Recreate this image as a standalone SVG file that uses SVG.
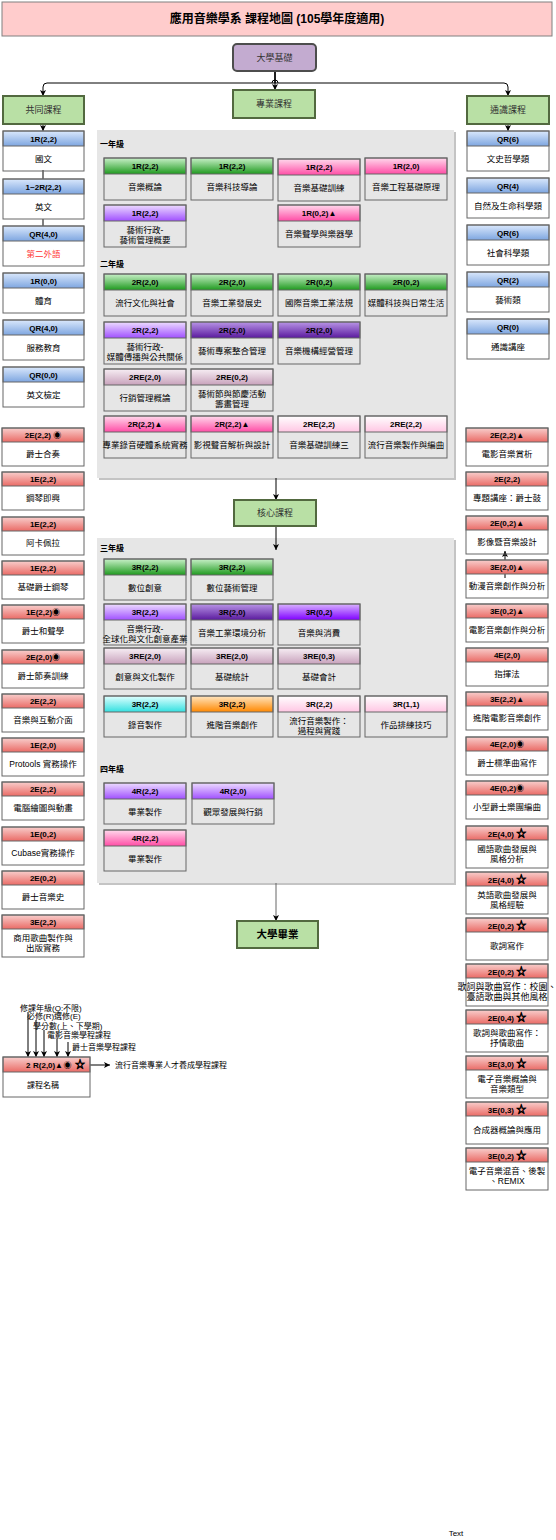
<svg xmlns="http://www.w3.org/2000/svg" width="556" height="1540" viewBox="0 0 556 1540">
<style>
text{font-family:"Liberation Sans","Noto Sans CJK TC",sans-serif;fill:#000}
.ht{font-size:8px;font-weight:bold;text-anchor:middle}
.bt{font-size:8.5px;text-anchor:middle}
.o{fill:none;stroke:#666;stroke-width:1}
.h{stroke:#666;stroke-width:1}
.yl{font-size:8px;font-weight:bold}
.grp{fill:#b9e0a5;stroke:#52693f;stroke-width:2}
.gt{font-size:9px;text-anchor:middle;fill:#333}
.c{fill:none;stroke:#000;stroke-width:1}
.ca{fill:none;stroke:#000;stroke-width:1;marker-end:url(#arr)}
.panel{fill:#e6e6e6}
.shadow{fill:#c4c4c4}
.lg{font-size:8px}
.st{font-size:10px;stroke:#000;stroke-width:0.7}
</style>
<defs>
<marker id="arr" viewBox="0 0 8 8" refX="8" refY="4" markerWidth="6" markerHeight="6" orient="auto" markerUnits="userSpaceOnUse"><path d="M0,0 L8,4 L0,8 L2,4 z" fill="#000"/></marker>
<linearGradient id="gBlue" x1="0" y1="0" x2="0" y2="1"><stop offset="0" stop-color="#dae8fc"/><stop offset="1" stop-color="#7ea6e0"/></linearGradient>
<linearGradient id="gRed" x1="0" y1="0" x2="0" y2="1"><stop offset="0" stop-color="#f8cecc"/><stop offset="1" stop-color="#ea6b66"/></linearGradient>
<linearGradient id="gGreen" x1="0" y1="0" x2="0" y2="1"><stop offset="0" stop-color="#c8f0c8"/><stop offset="1" stop-color="#1f9a1f"/></linearGradient>
<linearGradient id="gPink" x1="0" y1="0" x2="0" y2="1"><stop offset="0" stop-color="#ffd9ec"/><stop offset="1" stop-color="#ff4da6"/></linearGradient>
<linearGradient id="gPurple" x1="0" y1="0" x2="0" y2="1"><stop offset="0" stop-color="#eddcff"/><stop offset="1" stop-color="#a050ff"/></linearGradient>
<linearGradient id="gDPurple" x1="0" y1="0" x2="0" y2="1"><stop offset="0" stop-color="#b894e6"/><stop offset="1" stop-color="#5a1a9e"/></linearGradient>
<linearGradient id="gVPurple" x1="0" y1="0" x2="0" y2="1"><stop offset="0" stop-color="#d9b3ff"/><stop offset="1" stop-color="#7f00ff"/></linearGradient>
<linearGradient id="gMauve" x1="0" y1="0" x2="0" y2="1"><stop offset="0" stop-color="#f7eef4"/><stop offset="1" stop-color="#c8a2bc"/></linearGradient>
<linearGradient id="gLPink" x1="0" y1="0" x2="0" y2="1"><stop offset="0" stop-color="#ffffff"/><stop offset="1" stop-color="#ffc6e3"/></linearGradient>
<linearGradient id="gCyan" x1="0" y1="0" x2="0" y2="1"><stop offset="0" stop-color="#e0ffff"/><stop offset="1" stop-color="#33e0e0"/></linearGradient>
<linearGradient id="gOrange" x1="0" y1="0" x2="0" y2="1"><stop offset="0" stop-color="#ffe5c0"/><stop offset="1" stop-color="#ff8800"/></linearGradient>
</defs>
<rect width="556" height="1540" fill="#fff"/>

<g id="title"><rect x="2" y="2" width="550" height="34" fill="#ffcccc" stroke="#808080" stroke-width="1"/><text x="277" y="23" style="font-size:12px;font-weight:bold;text-anchor:middle">應用音樂學系 課程地圖 (105學年度適用)</text></g>

<g id="panel1"><rect class="shadow" x="99" y="132" width="357" height="348"/><rect class="panel" x="97" y="130" width="357" height="348"/>
<text class="yl" x="100" y="147">一年級</text><text class="yl" x="100" y="267">二年級</text></g>
<g id="panel2"><rect class="shadow" x="99" y="540" width="357" height="345"/><rect class="panel" x="97" y="538" width="357" height="345"/>
<text class="yl" x="100" y="551">三年級</text><text class="yl" x="100" y="772">四年級</text></g>

<g id="connectors">
<path class="ca" d="M275,71 V90"/>
<path class="ca" d="M275,71 V83 H47 Q43,83 43,87 V96"/>
<path class="ca" d="M275,71 V83 H504 Q508,83 508,87 V96"/>
<path class="c" d="M272,83 A3,3 0 0 1 278,83" fill="#fff"/>
<path class="ca" d="M43,124 V131"/>
<path class="c" d="M43,170 V179"/>
<path class="c" d="M43,219 V226"/>
<path class="ca" d="M508,124 V131"/>
<path class="ca" d="M276,478 V500"/>
<path class="ca" d="M276,526 V550"/>
<path class="ca" d="M276,883 V921" style="stroke:#666"/>
<path class="ca" d="M505,578 V551"/>
<path class="ca" d="M28,1012 V1057"/>
<path class="ca" d="M36,1020 V1057"/>
<path class="ca" d="M44,1030 V1057"/>
<path class="ca" d="M57,1039 V1057"/>
<path class="ca" d="M68,1042 V1057"/>
<path class="ca" d="M86,1065 H110"/>
</g>

<g id="n-base"><rect x="233" y="44" width="83" height="27" rx="4" fill="#c3abd0" stroke="#4d4d4d" stroke-width="2"/><text class="gt" x="274.5" y="61">大學基礎</text></g>
<g id="n-common"><rect class="grp" x="3" y="96" width="81" height="28"/><text class="gt" x="43.5" y="113">共同課程</text></g>
<g id="n-major"><rect class="grp" x="233" y="90" width="82" height="28"/><text class="gt" x="274" y="107">專業課程</text></g>
<g id="n-general"><rect class="grp" x="467" y="96" width="82" height="28"/><text class="gt" x="508" y="113">通識課程</text></g>
<g id="n-core"><rect class="grp" x="234" y="500" width="82" height="26"/><text class="gt" x="275" y="516">核心課程</text></g>
<g id="n-grad"><rect class="grp" x="237" y="921" width="81" height="27"/><text x="277.5" y="938" style="font-size:10.5px;font-weight:bold;text-anchor:middle">大學畢業</text></g>

<!-- common courses -->
<g id="c1" transform="translate(3,131)"><rect class="h" width="81" height="15" fill="url(#gBlue)"/><rect class="o" width="81" height="40"/><text class="ht" x="40.5" y="10.5">1R(2,2)</text><text class="bt" x="40.5" y="30.5">國文</text></g>
<g id="c2" transform="translate(3,179)"><rect class="h" width="81" height="15" fill="url(#gBlue)"/><rect class="o" width="81" height="40"/><text class="ht" x="40.5" y="10.5">1~2R(2,2)</text><text class="bt" x="40.5" y="30.5">英文</text></g>
<g id="c3" transform="translate(3,226)"><rect class="h" width="81" height="15" fill="url(#gBlue)"/><rect class="o" width="81" height="40"/><text class="ht" x="40.5" y="10.5">QR(4,0)</text><text class="bt" x="40.5" y="30.5" style="fill:#ff3333">第二外語</text></g>
<g id="c4" transform="translate(3,273)"><rect class="h" width="81" height="15" fill="url(#gBlue)"/><rect class="o" width="81" height="40"/><text class="ht" x="40.5" y="10.5">1R(0,0)</text><text class="bt" x="40.5" y="30.5">體育</text></g>
<g id="c5" transform="translate(3,320)"><rect class="h" width="81" height="15" fill="url(#gBlue)"/><rect class="o" width="81" height="40"/><text class="ht" x="40.5" y="10.5">QR(4,0)</text><text class="bt" x="40.5" y="30.5">服務教育</text></g>
<g id="c6" transform="translate(3,367)"><rect class="h" width="81" height="15" fill="url(#gBlue)"/><rect class="o" width="81" height="40"/><text class="ht" x="40.5" y="10.5">QR(0,0)</text><text class="bt" x="40.5" y="30.5">英文檢定</text></g>

<!-- general courses -->
<g id="g1" transform="translate(467,131)"><rect class="h" width="82" height="15" fill="url(#gBlue)"/><rect class="o" width="82" height="40"/><text class="ht" x="41" y="10.5">QR(6)</text><text class="bt" x="41" y="30.5">文史哲學類</text></g>
<g id="g2" transform="translate(467,178)"><rect class="h" width="82" height="15" fill="url(#gBlue)"/><rect class="o" width="82" height="40"/><text class="ht" x="41" y="10.5">QR(4)</text><text class="bt" x="41" y="30.5">自然及生命科學類</text></g>
<g id="g3" transform="translate(467,225)"><rect class="h" width="82" height="15" fill="url(#gBlue)"/><rect class="o" width="82" height="40"/><text class="ht" x="41" y="10.5">QR(6)</text><text class="bt" x="41" y="30.5">社會科學類</text></g>
<g id="g4" transform="translate(467,272)"><rect class="h" width="82" height="15" fill="url(#gBlue)"/><rect class="o" width="82" height="40"/><text class="ht" x="41" y="10.5">QR(2)</text><text class="bt" x="41" y="30.5">藝術類</text></g>
<g id="g5" transform="translate(467,319)"><rect class="h" width="82" height="15" fill="url(#gBlue)"/><rect class="o" width="82" height="40"/><text class="ht" x="41" y="10.5">QR(0)</text><text class="bt" x="41" y="30.5">通識講座</text></g>

<!-- year 1 -->
<g id="y1a" transform="translate(104,158)"><rect class="h" width="82" height="16" fill="url(#gGreen)"/><rect class="o" width="82" height="42"/><text class="ht" x="41" y="11">1R(2,2)</text><text class="bt" x="41" y="32">音樂概論</text></g>
<g id="y1b" transform="translate(191,158)"><rect class="h" width="82" height="16" fill="url(#gGreen)"/><rect class="o" width="82" height="42"/><text class="ht" x="41" y="11">1R(2,2)</text><text class="bt" x="41" y="32">音樂科技導論</text></g>
<g id="y1c" transform="translate(278,159)"><rect class="h" width="82" height="16" fill="url(#gPink)"/><rect class="o" width="82" height="42"/><text class="ht" x="41" y="11">1R(2,2)</text><text class="bt" x="41" y="32">音樂基礎訓練</text></g>
<g id="y1d" transform="translate(365,158)"><rect class="h" width="82" height="16" fill="url(#gPink)"/><rect class="o" width="82" height="42"/><text class="ht" x="41" y="11">1R(2,0)</text><text class="bt" x="41" y="32">音樂工程基礎原理</text></g>
<g id="y1e" transform="translate(104,205)"><rect class="h" width="82" height="16" fill="url(#gPurple)"/><rect class="o" width="82" height="42"/><text class="ht" x="41" y="11">1R(2,2)</text><text class="bt" x="41" y="28">藝術行政-</text><text class="bt" x="41" y="38">藝術管理概要</text></g>
<g id="y1f" transform="translate(278,205)"><rect class="h" width="82" height="16" fill="url(#gPink)"/><rect class="o" width="82" height="42"/><text class="ht" x="41" y="11">1R(0,2)▲</text><text class="bt" x="41" y="32">音樂聲學與樂器學</text></g>

<!-- year 2 -->
<g id="y2a" transform="translate(104,274)"><rect class="h" width="82" height="16" fill="url(#gGreen)"/><rect class="o" width="82" height="42"/><text class="ht" x="41" y="11">2R(2,0)</text><text class="bt" x="41" y="32">流行文化與社會</text></g>
<g id="y2b" transform="translate(191,274)"><rect class="h" width="82" height="16" fill="url(#gGreen)"/><rect class="o" width="82" height="42"/><text class="ht" x="41" y="11">2R(2,0)</text><text class="bt" x="41" y="32">音樂工業發展史</text></g>
<g id="y2c" transform="translate(278,274)"><rect class="h" width="82" height="16" fill="url(#gGreen)"/><rect class="o" width="82" height="42"/><text class="ht" x="41" y="11">2R(0,2)</text><text class="bt" x="41" y="32">國際音樂工業法規</text></g>
<g id="y2d" transform="translate(365,274)"><rect class="h" width="82" height="16" fill="url(#gGreen)"/><rect class="o" width="82" height="42"/><text class="ht" x="41" y="11">2R(0,2)</text><text class="bt" x="41" y="32">媒體科技與日常生活</text></g>
<g id="y2e" transform="translate(104,322)"><rect class="h" width="82" height="16" fill="url(#gPurple)"/><rect class="o" width="82" height="42"/><text class="ht" x="41" y="11">2R(2,2)</text><text class="bt" x="41" y="28">藝術行政-</text><text class="bt" x="41" y="38">媒體傳播與公共關係</text></g>
<g id="y2f" transform="translate(191,322)"><rect class="h" width="82" height="16" fill="url(#gDPurple)"/><rect class="o" width="82" height="42"/><text class="ht" x="41" y="11">2R(2,0)</text><text class="bt" x="41" y="32">藝術專案整合管理</text></g>
<g id="y2g" transform="translate(278,322)"><rect class="h" width="82" height="16" fill="url(#gDPurple)"/><rect class="o" width="82" height="42"/><text class="ht" x="41" y="11">2R(2,0)</text><text class="bt" x="41" y="32">音樂機構經營管理</text></g>
<g id="y2h" transform="translate(104,369)"><rect class="h" width="82" height="16" fill="url(#gMauve)"/><rect class="o" width="82" height="42"/><text class="ht" x="41" y="11">2RE(2,0)</text><text class="bt" x="41" y="32">行銷管理概論</text></g>
<g id="y2i" transform="translate(191,369)"><rect class="h" width="82" height="16" fill="url(#gMauve)"/><rect class="o" width="82" height="42"/><text class="ht" x="41" y="11">2RE(0,2)</text><text class="bt" x="41" y="28">藝術節與節慶活動</text><text class="bt" x="41" y="38">籌畫管理</text></g>
<g id="y2j" transform="translate(104,416)"><rect class="h" width="82" height="16" fill="url(#gPink)"/><rect class="o" width="82" height="42"/><text class="ht" x="41" y="11">2R(2,2)▲</text><text class="bt" x="41" y="32">專業錄音硬體系統實務</text></g>
<g id="y2k" transform="translate(191,416)"><rect class="h" width="82" height="16" fill="url(#gPink)"/><rect class="o" width="82" height="42"/><text class="ht" x="41" y="11">2R(2,2)▲</text><text class="bt" x="41" y="32">影視聲音解析與設計</text></g>
<g id="y2l" transform="translate(278,416)"><rect class="h" width="82" height="16" fill="url(#gLPink)"/><rect class="o" width="82" height="42"/><text class="ht" x="41" y="11">2RE(2,2)</text><text class="bt" x="41" y="32">音樂基礎訓練三</text></g>
<g id="y2m" transform="translate(365,416)"><rect class="h" width="82" height="16" fill="url(#gLPink)"/><rect class="o" width="82" height="42"/><text class="ht" x="41" y="11">2RE(2,2)</text><text class="bt" x="41" y="32">流行音樂製作與編曲</text></g>

<!-- year 3 -->
<g id="y3a" transform="translate(104,559)"><rect class="h" width="82" height="16" fill="url(#gGreen)"/><rect class="o" width="82" height="41"/><text class="ht" x="41" y="11">3R(2,2)</text><text class="bt" x="41" y="31.5">數位創意</text></g>
<g id="y3b" transform="translate(191,559)"><rect class="h" width="82" height="16" fill="url(#gGreen)"/><rect class="o" width="82" height="41"/><text class="ht" x="41" y="11">3R(2,2)</text><text class="bt" x="41" y="31.5">數位藝術管理</text></g>
<g id="y3c" transform="translate(104,604)"><rect class="h" width="82" height="16" fill="url(#gPurple)"/><rect class="o" width="82" height="41"/><text class="ht" x="41" y="11">3R(2,2)</text><text class="bt" x="41" y="27.5">音樂行政-</text><text class="bt" x="41" y="37.5">全球化與文化創意產業</text></g>
<g id="y3d" transform="translate(191,604)"><rect class="h" width="82" height="16" fill="url(#gDPurple)"/><rect class="o" width="82" height="41"/><text class="ht" x="41" y="11">3R(2,0)</text><text class="bt" x="41" y="31.5">音樂工業環境分析</text></g>
<g id="y3e" transform="translate(278,604)"><rect class="h" width="82" height="16" fill="url(#gVPurple)"/><rect class="o" width="82" height="41"/><text class="ht" x="41" y="11">3R(0,2)</text><text class="bt" x="41" y="31.5">音樂與消費</text></g>
<g id="y3f" transform="translate(104,648)"><rect class="h" width="82" height="16" fill="url(#gMauve)"/><rect class="o" width="82" height="41"/><text class="ht" x="41" y="11">3RE(2,0)</text><text class="bt" x="41" y="31.5">創意與文化製作</text></g>
<g id="y3g" transform="translate(191,648)"><rect class="h" width="82" height="16" fill="url(#gMauve)"/><rect class="o" width="82" height="41"/><text class="ht" x="41" y="11">3RE(2,0)</text><text class="bt" x="41" y="31.5">基礎統計</text></g>
<g id="y3h" transform="translate(278,648)"><rect class="h" width="82" height="16" fill="url(#gMauve)"/><rect class="o" width="82" height="41"/><text class="ht" x="41" y="11">3RE(0,3)</text><text class="bt" x="41" y="31.5">基礎會計</text></g>
<g id="y3i" transform="translate(104,696)"><rect class="h" width="82" height="16" fill="url(#gCyan)"/><rect class="o" width="82" height="41"/><text class="ht" x="41" y="11">3R(2,2)</text><text class="bt" x="41" y="31.5">錄音製作</text></g>
<g id="y3j" transform="translate(191,696)"><rect class="h" width="82" height="16" fill="url(#gOrange)"/><rect class="o" width="82" height="41"/><text class="ht" x="41" y="11">3R(2,2)</text><text class="bt" x="41" y="31.5">進階音樂創作</text></g>
<g id="y3k" transform="translate(278,696)"><rect class="h" width="82" height="16" fill="url(#gLPink)"/><rect class="o" width="82" height="41"/><text class="ht" x="41" y="11">3R(2,2)</text><text class="bt" x="41" y="27.5">流行音樂製作：</text><text class="bt" x="41" y="37.5">過程與實踐</text></g>
<g id="y3l" transform="translate(365,696)"><rect class="h" width="82" height="16" fill="url(#gLPink)"/><rect class="o" width="82" height="41"/><text class="ht" x="41" y="11">3R(1,1)</text><text class="bt" x="41" y="31.5">作品排練技巧</text></g>

<!-- year 4 -->
<g id="y4a" transform="translate(104,783)"><rect class="h" width="82" height="16" fill="url(#gPurple)"/><rect class="o" width="82" height="41"/><text class="ht" x="41" y="11">4R(2,2)</text><text class="bt" x="41" y="31.5">畢業製作</text></g>
<g id="y4b" transform="translate(192,783)"><rect class="h" width="82" height="16" fill="url(#gPurple)"/><rect class="o" width="82" height="41"/><text class="ht" x="41" y="11">4R(2,0)</text><text class="bt" x="41" y="31.5">觀眾發展與行銷</text></g>
<g id="y4c" transform="translate(104,830)"><rect class="h" width="82" height="16" fill="url(#gPink)"/><rect class="o" width="82" height="41"/><text class="ht" x="41" y="11">4R(2,2)</text><text class="bt" x="41" y="31.5">畢業製作</text></g>

<!-- left electives -->
<g id="le1" transform="translate(2,428)"><rect class="h" width="82" height="14" fill="url(#gRed)"/><rect class="o" width="82" height="38"/><text class="ht" x="41" y="10">2E(2,2) ◉</text><text class="bt" x="41" y="29">爵士合奏</text></g>
<g id="le2" transform="translate(2,472)"><rect class="h" width="82" height="14" fill="url(#gRed)"/><rect class="o" width="82" height="38"/><text class="ht" x="41" y="10">1E(2,2)</text><text class="bt" x="41" y="29">鋼琴即興</text></g>
<g id="le3" transform="translate(2,517)"><rect class="h" width="82" height="14" fill="url(#gRed)"/><rect class="o" width="82" height="38"/><text class="ht" x="41" y="10">1E(2,2)</text><text class="bt" x="41" y="29">阿卡佩拉</text></g>
<g id="le4" transform="translate(2,561)"><rect class="h" width="82" height="14" fill="url(#gRed)"/><rect class="o" width="82" height="38"/><text class="ht" x="41" y="10">1E(2,2)</text><text class="bt" x="41" y="29">基礎爵士鋼琴</text></g>
<g id="le5" transform="translate(2,605)"><rect class="h" width="82" height="14" fill="url(#gRed)"/><rect class="o" width="82" height="38"/><text class="ht" x="41" y="10">1E(2,2)◉</text><text class="bt" x="41" y="29">爵士和聲學</text></g>
<g id="le6" transform="translate(2,650)"><rect class="h" width="82" height="14" fill="url(#gRed)"/><rect class="o" width="82" height="38"/><text class="ht" x="41" y="10">2E(2,0)◉</text><text class="bt" x="41" y="29">爵士節奏訓練</text></g>
<g id="le7" transform="translate(2,694)"><rect class="h" width="82" height="14" fill="url(#gRed)"/><rect class="o" width="82" height="38"/><text class="ht" x="41" y="10">2E(2,2)</text><text class="bt" x="41" y="29">音樂與互動介面</text></g>
<g id="le8" transform="translate(2,738)"><rect class="h" width="82" height="14" fill="url(#gRed)"/><rect class="o" width="82" height="38"/><text class="ht" x="41" y="10">1E(2,0)</text><text class="bt" x="41" y="29">Protools 實務操作</text></g>
<g id="le9" transform="translate(2,782)"><rect class="h" width="82" height="14" fill="url(#gRed)"/><rect class="o" width="82" height="38"/><text class="ht" x="41" y="10">2E(2,2)</text><text class="bt" x="41" y="29">電腦繪圖與動畫</text></g>
<g id="le10" transform="translate(2,827)"><rect class="h" width="82" height="14" fill="url(#gRed)"/><rect class="o" width="82" height="38"/><text class="ht" x="41" y="10">1E(0,2)</text><text class="bt" x="41" y="29">Cubase實務操作</text></g>
<g id="le11" transform="translate(2,871)"><rect class="h" width="82" height="14" fill="url(#gRed)"/><rect class="o" width="82" height="38"/><text class="ht" x="41" y="10">2E(0,2)</text><text class="bt" x="41" y="29">爵士音樂史</text></g>
<g id="le12" transform="translate(2,915)"><rect class="h" width="82" height="14" fill="url(#gRed)"/><rect class="o" width="82" height="42"/><text class="ht" x="41" y="10">3E(2,2)</text><text class="bt" x="41" y="26">商用歌曲製作與</text><text class="bt" x="41" y="36">出版實務</text></g>

<!-- right electives -->
<g id="re1" transform="translate(466,428)"><rect class="h" width="82" height="14" fill="url(#gRed)"/><rect class="o" width="82" height="38"/><text class="ht" x="41" y="10">2E(2,2)▲</text><text class="bt" x="41" y="29">電影音樂賞析</text></g>
<g id="re2" transform="translate(466,472)"><rect class="h" width="82" height="14" fill="url(#gRed)"/><rect class="o" width="82" height="38"/><text class="ht" x="41" y="10">2E(2,2)</text><text class="bt" x="41" y="29">專題講座：爵士鼓</text></g>
<g id="re3" transform="translate(466,516)"><rect class="h" width="82" height="14" fill="url(#gRed)"/><rect class="o" width="82" height="38"/><text class="ht" x="41" y="10">2E(0,2)▲</text><text class="bt" x="41" y="29">影像暨音樂設計</text></g>
<g id="re4" transform="translate(466,560)"><rect class="h" width="82" height="14" fill="url(#gRed)"/><rect class="o" width="82" height="38"/><text class="ht" x="41" y="10">3E(2,0)▲</text><text class="bt" x="41" y="29">動漫音樂創作與分析</text></g>
<g id="re5" transform="translate(466,604)"><rect class="h" width="82" height="14" fill="url(#gRed)"/><rect class="o" width="82" height="38"/><text class="ht" x="41" y="10">3E(0,2)▲</text><text class="bt" x="41" y="29">電影音樂創作與分析</text></g>
<g id="re6" transform="translate(466,648)"><rect class="h" width="82" height="14" fill="url(#gRed)"/><rect class="o" width="82" height="38"/><text class="ht" x="41" y="10">4E(2,0)</text><text class="bt" x="41" y="29">指揮法</text></g>
<g id="re7" transform="translate(466,692)"><rect class="h" width="82" height="14" fill="url(#gRed)"/><rect class="o" width="82" height="38"/><text class="ht" x="41" y="10">3E(2,2)▲</text><text class="bt" x="41" y="29">進階電影音樂創作</text></g>
<g id="re8" transform="translate(466,737)"><rect class="h" width="82" height="14" fill="url(#gRed)"/><rect class="o" width="82" height="38"/><text class="ht" x="41" y="10">4E(2,0)◉</text><text class="bt" x="41" y="29">爵士標準曲寫作</text></g>
<g id="re9" transform="translate(466,781)"><rect class="h" width="82" height="14" fill="url(#gRed)"/><rect class="o" width="82" height="38"/><text class="ht" x="41" y="10">4E(0,2)◉</text><text class="bt" x="41" y="29">小型爵士樂團編曲</text></g>
<g id="re10" transform="translate(466,826)"><rect class="h" width="82" height="14" fill="url(#gRed)"/><rect class="o" width="82" height="42"/><text class="ht" x="41" y="10.5">2E(4,0) <tspan class="st">☆</tspan></text><text class="bt" x="41" y="26">國語歌曲發展與</text><text class="bt" x="41" y="36">風格分析</text></g>
<g id="re11" transform="translate(466,872)"><rect class="h" width="82" height="14" fill="url(#gRed)"/><rect class="o" width="82" height="42"/><text class="ht" x="41" y="10.5">2E(4,0) <tspan class="st">☆</tspan></text><text class="bt" x="41" y="26">英語歌曲發展與</text><text class="bt" x="41" y="36">風格經驗</text></g>
<g id="re12" transform="translate(466,918)"><rect class="h" width="82" height="14" fill="url(#gRed)"/><rect class="o" width="82" height="42"/><text class="ht" x="41" y="10.5">2E(0,2) <tspan class="st">☆</tspan></text><text class="bt" x="41" y="31">歌詞寫作</text></g>
<g id="re13" transform="translate(466,964)"><rect class="h" width="82" height="14" fill="url(#gRed)"/><rect class="o" width="82" height="42"/><text class="ht" x="41" y="10.5">2E(0,2) <tspan class="st">☆</tspan></text><text class="bt" x="41" y="26" style="font-size:9px">歌詞與歌曲寫作：校園、</text><text class="bt" x="41" y="36" style="font-size:9px">臺語歌曲與其他風格</text></g>
<g id="re14" transform="translate(466,1010)"><rect class="h" width="82" height="14" fill="url(#gRed)"/><rect class="o" width="82" height="42"/><text class="ht" x="41" y="10.5">2E(0,4) <tspan class="st">☆</tspan></text><text class="bt" x="41" y="26">歌詞與歌曲寫作：</text><text class="bt" x="41" y="36">抒情歌曲</text></g>
<g id="re15" transform="translate(466,1056)"><rect class="h" width="82" height="14" fill="url(#gRed)"/><rect class="o" width="82" height="42"/><text class="ht" x="41" y="10.5">3E(3,0) <tspan class="st">☆</tspan></text><text class="bt" x="41" y="26">電子音樂概論與</text><text class="bt" x="41" y="36">音樂類型</text></g>
<g id="re16" transform="translate(466,1102)"><rect class="h" width="82" height="14" fill="url(#gRed)"/><rect class="o" width="82" height="42"/><text class="ht" x="41" y="10.5">3E(0,3) <tspan class="st">☆</tspan></text><text class="bt" x="41" y="31">合成器概論與應用</text></g>
<g id="re17" transform="translate(466,1148)"><rect class="h" width="82" height="14" fill="url(#gRed)"/><rect class="o" width="82" height="42"/><text class="ht" x="41" y="10.5">3E(0,2) <tspan class="st">☆</tspan></text><text class="bt" x="41" y="26">電子音樂混音、後製</text><text class="bt" x="41" y="36">、REMIX</text></g>

<!-- legend -->
<g id="legend">
<text class="lg" x="20" y="1011">修課年級(Q:不限)</text>
<text class="lg" x="27" y="1019">必修(R)選修(E)</text>
<text class="lg" x="33" y="1029">學分數(上、下學期)</text>
<text class="lg" x="47" y="1038">電影音樂學程課程</text>
<text class="lg" x="72" y="1050">爵士音樂學程課程</text>
<rect class="h" x="3" y="1057" width="87" height="15" fill="url(#gRed)"/><rect class="o" x="3" y="1057" width="87" height="40"/>
<text style="font-size:8px;font-weight:bold"><tspan x="26" y="1068">2</tspan><tspan x="33" y="1068">R(2,0)</tspan><tspan x="55" y="1068">▲</tspan><tspan x="63.5" y="1068">◉</tspan><tspan x="75" y="1068" class="st">☆</tspan></text>
<text class="lg" x="27" y="1088">課程名稱</text>
<text class="lg" x="115" y="1068">流行音樂專業人才養成學程課程</text>
</g>
<text x="456" y="1536" style="font-size:8px;text-anchor:middle">Text</text>
</svg>
